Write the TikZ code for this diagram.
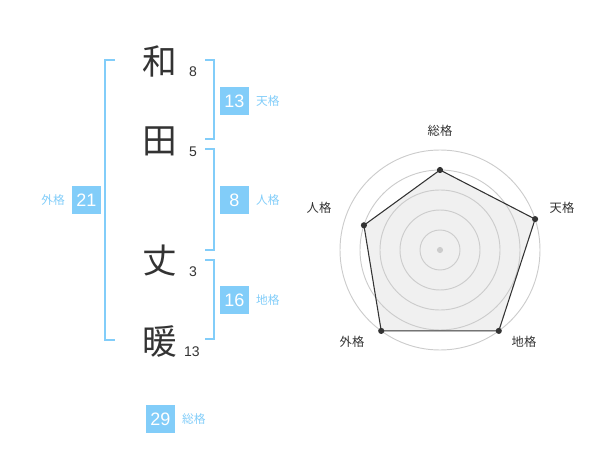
\documentclass[tikz,border=0pt]{standalone}
\usepackage{fontspec}
\usetikzlibrary{positioning}
\setmainfont{Liberation Sans}
\newfontfamily\jpfont{Noto Sans CJK JP}
\definecolor{skyblue}{HTML}{82CDF9}
\definecolor{inkgray}{HTML}{333333}
\definecolor{ringgray}{HTML}{CCCCCC}
\definecolor{fillgray}{HTML}{F0F0F0}

\begin{document}
\begin{tikzpicture}[
        x=0.75pt, y=-0.75pt,
        kanji/.style={font=\jpfont\fontsize{26}{26}\selectfont, text=inkgray, inner sep=0pt},
        strokes/.style={font=\fontsize{10.5}{11}\selectfont, text=inkgray, inner sep=0pt},
        score/.style={fill=skyblue, text=white, minimum width=21.75pt, minimum height=21pt,
            inner sep=0pt, font=\fontsize{13.5}{14}\selectfont},
        kaku/.style={font=\jpfont\fontsize{8.8}{9}\selectfont, text=skyblue, inner sep=0pt},
        axislabel/.style={font=\jpfont\fontsize{9.2}{9}\selectfont, text=inkgray, inner sep=0pt},
        bracket/.style={draw=skyblue, line width=1.5pt},
        dot/.style={circle, fill=inkgray, inner sep=0pt, minimum size=4.6pt},
    ]
    \useasboundingbox (0,0) rectangle (600,470);

    % name
    \node[kanji] (wa)  at (160,61)  {和};
    \node[kanji] (ta)  at (160,141) {田};
    \node[kanji] (take) at (160,261) {丈};
    \node[kanji] (dan) at (160,341) {暖};
    \node[strokes] (nWa)   at (193,72)  {8};
    \node[strokes] (nTa)   at (193,152) {5};
    \node[strokes] (nTake) at (193,272) {3};
    \node[strokes] (nDan)  at (192,352) {13};

    % brackets
    \draw[bracket] (115,60) -- (105,60) -- (105,340) -- (115,340);
    \draw[bracket] (205,60) -- (214,60) -- (214,139) -- (205,139);
    \draw[bracket] (205,149) -- (214,149) -- (214,250) -- (205,250);
    \draw[bracket] (205,260) -- (214,260) -- (214,339) -- (205,339);

    % scores
    \node[score] (ten) at (234.5,101) {13};
    \node[kaku, right=5pt of ten] {天格};
    \node[score] (jin) at (234.5,200) {8};
    \node[kaku, right=5pt of jin] {人格};
    \node[score] (chi) at (234.5,300) {16};
    \node[kaku, right=5pt of chi] {地格};
    \node[score] (gai) at (86.5,200) {21};
    \node[kaku, left=5pt of gai] {外格};
    \node[score] (sou) at (160.5,419) {29};
    \node[kaku, right=5pt of sou] {総格};

    % radar
    \coordinate (c) at (440,250);
    \coordinate (vSou) at ([shift={(-90:80)}]c);
    \coordinate (vTen) at ([shift={(-18:100)}]c);
    \coordinate (vChi) at ([shift={(54:100)}]c);
    \coordinate (vGai) at ([shift={(126:100)}]c);
    \coordinate (vJin) at ([shift={(198:80)}]c);
    \fill[fillgray] (vSou) -- (vTen) -- (vChi) -- (vGai) -- (vJin) -- cycle;
    \foreach \r in {20,40,60,80,100}
        \draw[ringgray, line width=0.7pt] (c) circle[radius=\r*0.75pt];
    \fill[ringgray] (c) circle[radius=2.3pt];
    \draw[inkgray, line width=0.8pt] (vSou) -- (vTen) -- (vChi) -- (vGai) -- (vJin) -- cycle;
    \foreach \v in {vSou,vTen,vChi,vGai,vJin}
        \node[dot] at (\v) {};

    \node[axislabel] (lSou) at (440,131) {総格};
    \node[axislabel] (lTen) at (562,208) {天格};
    \node[axislabel] (lChi) at (524,342) {地格};
    \node[axislabel] (lGai) at (352,342) {外格};
    \node[axislabel] (lJin) at (319,208) {人格};
\end{tikzpicture}
\end{document}
